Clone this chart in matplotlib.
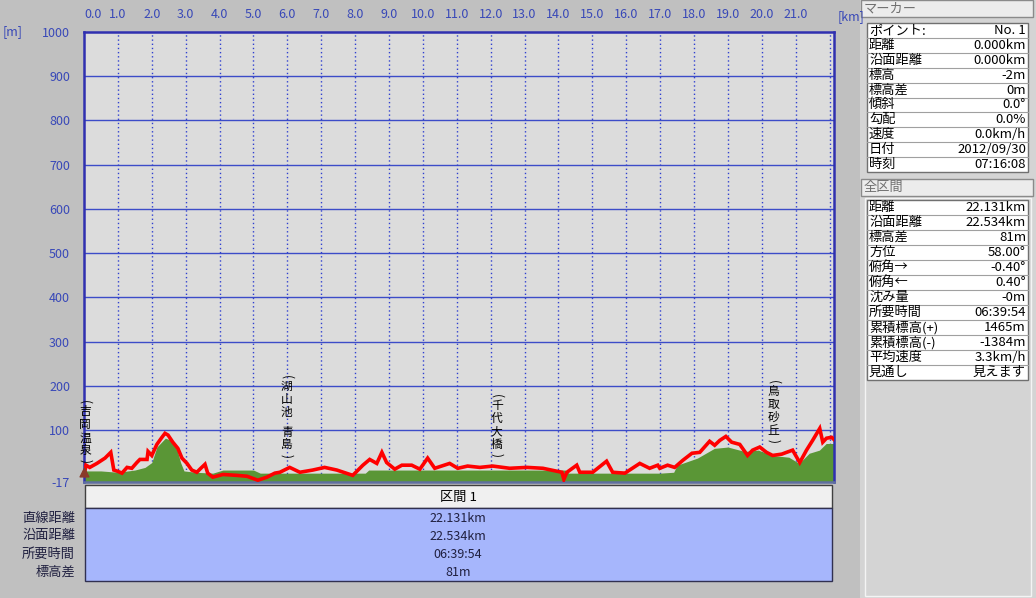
import matplotlib
matplotlib.use('Agg')
import matplotlib.pyplot as plt
from matplotlib.patches import Rectangle

plt.rcParams['font.family'] = ['Noto Sans CJK JP', 'DejaVu Sans']

# GPS track elevation (red) and terrain elevation (green)
track_km = [0.0, 0.06, 0.17, 0.38, 0.62, 0.79, 0.88, 1.00, 1.12, 1.27, 1.41, 1.56, 1.65, 1.86,
            1.89, 2.00, 2.15, 2.30, 2.39, 2.48, 2.62, 2.77, 2.89, 3.04, 3.18, 3.33, 3.42, 3.57,
            3.65, 3.80, 4.10, 4.51, 4.81, 5.13, 5.40, 5.63, 5.78, 6.07, 6.37, 6.75, 7.10, 7.46,
            7.93, 8.23, 8.43, 8.64, 8.79, 8.93, 9.17, 9.38, 9.67, 9.91, 10.14, 10.35, 10.79,
            11.03, 11.32, 11.68, 12.06, 12.56, 13.07, 13.54, 14.10, 14.16, 14.25, 14.54, 14.63,
            15.01, 15.42, 15.60, 15.96, 16.40, 16.69, 16.93, 16.99, 17.22, 17.43, 17.67, 17.94,
            18.17, 18.46, 18.61, 18.76, 18.94, 19.11, 19.35, 19.58, 19.73, 19.94, 20.14, 20.32,
            20.59, 20.73, 20.91, 21.12, 21.32, 21.50, 21.71, 21.80, 21.91, 22.06, 22.131]
track_elev = [-2, 21, 16, 25, 37, 50, 10, 7, 3, 16, 14, 27, 34, 34,
              52, 43, 68, 84, 93, 89, 73, 59, 37, 25, 10, 5, 12, 23,
              3, -6, 0, -2, -4, -13, -6, 3, 5, 16, 5, 10, 16, 10,
              -2, 21, 34, 25, 50, 27, 12, 21, 21, 12, 37, 14, 25,
              14, 19, 16, 19, 14, 16, 14, 5, -11, 5, 21, 5,
              5, 30, 5, 3, 25, 14, 21, 14, 21, 16, 32, 48,
              50, 75, 66, 77, 86, 73, 68, 43, 55, 62, 50, 43,
              46, 50, 55, 27, 55, 77, 104, 73, 82, 84, 79]

terrain_km = [0.0, 0.5, 1.0, 1.5, 1.8, 2.0, 2.15, 2.4, 2.55, 2.75, 2.85, 2.95, 3.3, 3.8, 4.1,
              5.0, 5.2, 8.3, 8.4, 14.2, 14.3, 17.0, 17.4, 17.5, 18.1, 18.6, 19.0, 19.5, 19.9,
              20.3, 20.8, 21.1, 21.4, 21.7, 21.9, 22.131]
terrain_elev = [8, 8, 5, 10, 16, 27, 62, 82, 78, 55, 27, 8, 5, 3, 10,
                10, 3, 3, 10, 10, 3, 3, 5, 21, 37, 59, 62, 52, 55,
                43, 39, 25, 48, 55, 70, 70]

place_names = ['吉岡温泉', '湖山池 青島', '千代大橋', '鳥取砂丘']
place_km = [0.03, 5.98, 12.18, 20.35]
place_label_top = [172, 229, 186, 218]

km_ticks = list(range(0, 22))
elev_ticks = [-17, 100, 200, 300, 400, 500, 600, 700, 800, 900, 1000]

marker_rows = [('ポイント:', 'No. 1'), ('距離', '0.000km'), ('沿面距離', '0.000km'),
               ('標高', '-2m'), ('標高差', '0m'), ('傾斜', '0.0°'), ('勾配', '0.0%'),
               ('速度', '0.0km/h'), ('日付', '2012/09/30'), ('時刻', '07:16:08')]
total_rows = [('距離', '22.131km'), ('沿面距離', '22.534km'), ('標高差', '81m'),
              ('方位', '58.00°'), ('俯角→', '-0.40°'), ('俯角←', '0.40°'), ('沈み量', '-0m'),
              ('所要時間', '06:39:54'), ('累積標高(+)', '1465m'), ('累積標高(-)', '-1384m'),
              ('平均速度', '3.3km/h'), ('見通し', '見えます')]
section_labels = ['直線距離', '沿面距離', '所要時間', '標高差']
section_values = ['22.131km', '22.534km', '06:39:54', '81m']

W, H = 1036, 598
BLUE = '#3848b8'

fig = plt.figure(figsize=(W / 100, H / 100), dpi=100)
fig.patch.set_facecolor('#c0c0c0')

# overlay in pixel coordinates for the panels around the chart
ov = fig.add_axes([0, 0, 1, 1])
ov.set_xlim(0, W)
ov.set_ylim(H, 0)
ov.axis('off')

ov.add_patch(Rectangle((860, 0), W - 860, H, facecolor='#d4d4d4', edgecolor='none'))


def header(y, label):
    ov.add_patch(Rectangle((861, y), 172, 17, facecolor='#ececec', edgecolor='#8a8a8a', lw=1))
    ov.text(864, y + 8.5, label, ha='left', va='center', fontsize=9.5, color='#707070')


def table(y0, rows, rh=14.9):
    ov.add_patch(Rectangle((867, y0), 161, rh * len(rows), facecolor='white',
                           edgecolor='#707070', lw=1))
    for i, (k, v) in enumerate(rows):
        yc = y0 + rh * (i + 0.5)
        if i > 0:
            ov.plot([867, 1028], [y0 + rh * i] * 2, color='#a0a0a0', lw=0.8)
        ov.text(869, yc, k, ha='left', va='center', fontsize=9.5, color='black')
        ov.text(1026, yc, v, ha='right', va='center', fontsize=9.5, color='black')


header(0, 'マーカー')
table(23, marker_rows)
header(179, '全区間')
ov.add_patch(Rectangle((865, 198), 166, 398, facecolor='none', edgecolor='#f4f4f4', lw=1))
table(200, total_rows, rh=15)

# section table under the chart
ov.add_patch(Rectangle((85, 485), 747, 23, facecolor='#f0f0f0', edgecolor='#404040', lw=1))
ov.text(458, 497, '区間 1', ha='center', va='center', fontsize=9.5, color='black')
ov.add_patch(Rectangle((85, 508), 747, 73, facecolor='#a6b6fc', edgecolor='#303050', lw=1))
for i, (lab, val) in enumerate(zip(section_labels, section_values)):
    yc = 518 + 18 * i
    ov.text(75, yc, lab, ha='right', va='center', fontsize=9.5, color='#202040')
    ov.text(458, yc, val, ha='center', va='center', fontsize=9, color='#202040')

ov.text(3, 32, '[m]', ha='left', va='center', fontsize=9, color=BLUE)
ov.text(838, 17, '[km]', ha='left', va='center', fontsize=9, color=BLUE)

# main elevation chart
ax = fig.add_axes([84 / W, (H - 482) / H, 750 / W, 450 / H])
ax.set_facecolor('#dcdcdc')
ax.set_xlim(0, 22.131)
ax.set_ylim(-17, 1000)

ax.fill_between(terrain_km, terrain_elev, -17, color='#5a9636', lw=0, zorder=2)
ax.plot(track_km, track_elev, color='#ff0000', lw=2.6, zorder=3, solid_joinstyle='miter')

for y in elev_ticks[1:-1]:
    ax.axhline(y, color='#3c4cc8', lw=1, zorder=1)
for x in range(1, 23):
    ax.axvline(x, color='#3040d0', lw=1, ls=(0, (1, 2)), zorder=1)

ax.xaxis.tick_top()
ax.set_xticks(km_ticks)
ax.set_xticklabels([f'{k:.1f}' for k in km_ticks])
ax.get_xticklabels()[0].set_horizontalalignment('left')
ax.set_yticks(elev_ticks)
ax.set_yticklabels([str(v) for v in elev_ticks])
ax.tick_params(axis='x', length=0, pad=8, labelsize=9, labelcolor=BLUE)
ax.tick_params(axis='y', length=0, pad=10, labelsize=9, labelcolor=BLUE)
for s in ax.spines.values():
    s.set_color('#3030b0')
    s.set_linewidth(1.8)
ax.spines['bottom'].set_color('#6070a0')

# current marker position
ax.scatter([track_km[0]], [track_elev[0] + 8], marker='^', s=40, color='#8a3a2a', zorder=4,
           clip_on=False)


def vertical_label(x, top, text):
    # stacked characters, parentheses turned sideways like vertical writing
    chars = ['('] + list(text) + [')']
    off = 0
    for ch in chars:
        h = 7 if ch in '() ' else 13
        if ch != ' ':
            ax.annotate(ch, (x, top), xytext=(0, -off - h / 2), textcoords='offset pixels',
                        ha='center', va='center', fontsize=8.5, color='black', zorder=5,
                        rotation=-90 if ch in '()' else 0, rotation_mode='anchor')
        off += h


for name, km, top in zip(place_names, place_km, place_label_top):
    vertical_label(km, top, name)

fig.savefig('out.png', dpi=100, facecolor=fig.get_facecolor())
